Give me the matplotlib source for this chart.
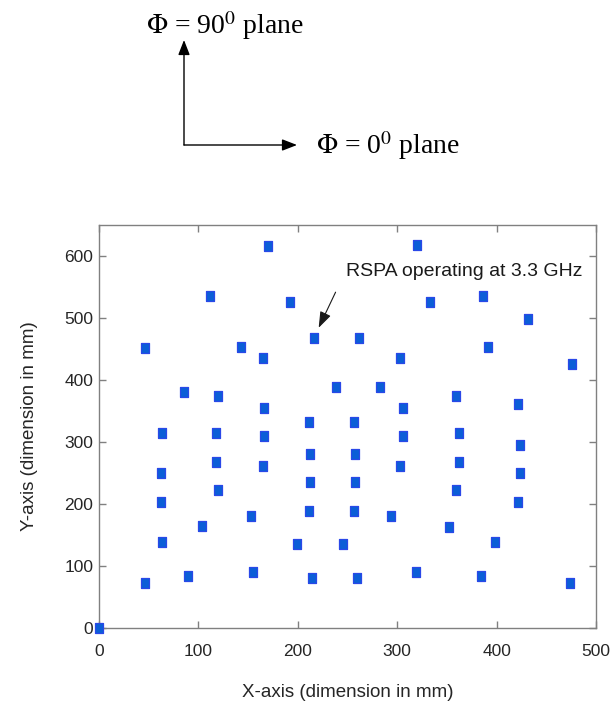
import numpy as np
import matplotlib.pyplot as plt

plt.rcParams['mathtext.fontset'] = 'stix'

# element centres (mm)
x_mm = [0, 46, 90, 155, 214, 260, 319, 384, 474,
        63, 104, 153, 199, 245, 294, 352, 398,
        62, 120, 211, 257, 359, 422,
        212, 258,
        62, 118, 165, 212, 258, 303, 362, 424,
        63, 118, 166, 211, 257, 306, 362, 424,
        86, 120, 166, 238, 283, 306, 359, 422,
        46, 143, 165, 216, 262, 303, 391, 476,
        112, 192, 333, 386, 432,
        170, 320]
y_mm = [0, 73, 84, 91, 81, 81, 91, 84, 73,
        139, 164, 181, 136, 136, 181, 163, 139,
        203, 223, 189, 189, 223, 204,
        235, 235,
        250, 268, 262, 280, 280, 262, 268, 250,
        315, 315, 310, 332, 332, 310, 315, 295,
        380, 374, 355, 389, 389, 355, 374, 361,
        452, 453, 436, 468, 468, 436, 453, 426,
        535, 525, 525, 535, 498,
        616, 617]

x_ticks = [0, 100, 200, 300, 400, 500]
y_ticks = [0, 100, 200, 300, 400, 500, 600]

axis_font = 'Liberation Sans'

fig = plt.figure(figsize=(6.11, 7.07), dpi=100)
ax = fig.add_axes([99 / 611, 1 - 628.3 / 707, 497 / 611, 403.6 / 707])

# plane orientation sketch above the plot
ox, oy = 184 / 611, 1 - 145 / 707
arr = dict(arrowstyle='-|>,head_length=0.9,head_width=0.35', color='k', lw=1.0,
           shrinkA=0, shrinkB=0)
ax.annotate('', xy=(ox, 1 - 40 / 707), xytext=(ox, oy), xycoords='figure fraction',
            textcoords='figure fraction', arrowprops=arr, annotation_clip=False)
ax.annotate('', xy=(297 / 611, oy), xytext=(ox, oy), xycoords='figure fraction',
            textcoords='figure fraction', arrowprops=arr, annotation_clip=False)
fig.text(146 / 611, 1 - 26 / 707, r'$\Phi$ = 90$^{0}$ plane', fontsize=20,
         family='Liberation Serif', va='center', ha='left')
fig.text(316 / 611, 1 - 146 / 707, r'$\Phi$ = 0$^{0}$ plane', fontsize=20,
         family='Liberation Serif', va='center', ha='left')

rect = [(-0.78, -1), (0.78, -1), (0.78, 1), (-0.78, 1), (-0.78, -1)]
ax.plot(x_mm, y_mm, linestyle='none', marker=rect, markersize=7.5,
        markerfacecolor='#0b5ed7', markeredgecolor='#2a48e8', markeredgewidth=0.9,
        clip_on=False, zorder=3)

ax.set_xlim(0, 500)
ax.set_ylim(0, 650)
ax.set_xticks(x_ticks)
ax.set_yticks(y_ticks)
for s in ax.spines.values():
    s.set_color('#808080')
    s.set_linewidth(1.0)
ax.tick_params(direction='in', length=5, width=1.0, color='#808080',
               top=True, right=True, labelsize=12.5, labelcolor='#262626')
ax.tick_params(axis='x', pad=11)
ax.tick_params(axis='y', pad=4)
for lab in ax.get_xticklabels() + ax.get_yticklabels():
    lab.set_family(axis_font)

ax.set_xlabel('X-axis (dimension in mm)', fontsize=13.5, family=axis_font,
              color='#262626', labelpad=18)
ax.set_ylabel('Y-axis (dimension in mm)', fontsize=13.5, family=axis_font,
              color='#262626', labelpad=19)

ax.annotate('RSPA operating at 3.3 GHz', xy=(221, 484), xytext=(248, 575),
            fontsize=14, family='Liberation Sans', color='#1a1a1a', ha='left', va='center',
            arrowprops=dict(arrowstyle='-|>,head_length=0.7,head_width=0.25',
                            color='#1a1a1a', lw=0.8, shrinkA=12, shrinkB=0,
                            relpos=(0, 0.5)))

fig.savefig('out.png', dpi=100)
